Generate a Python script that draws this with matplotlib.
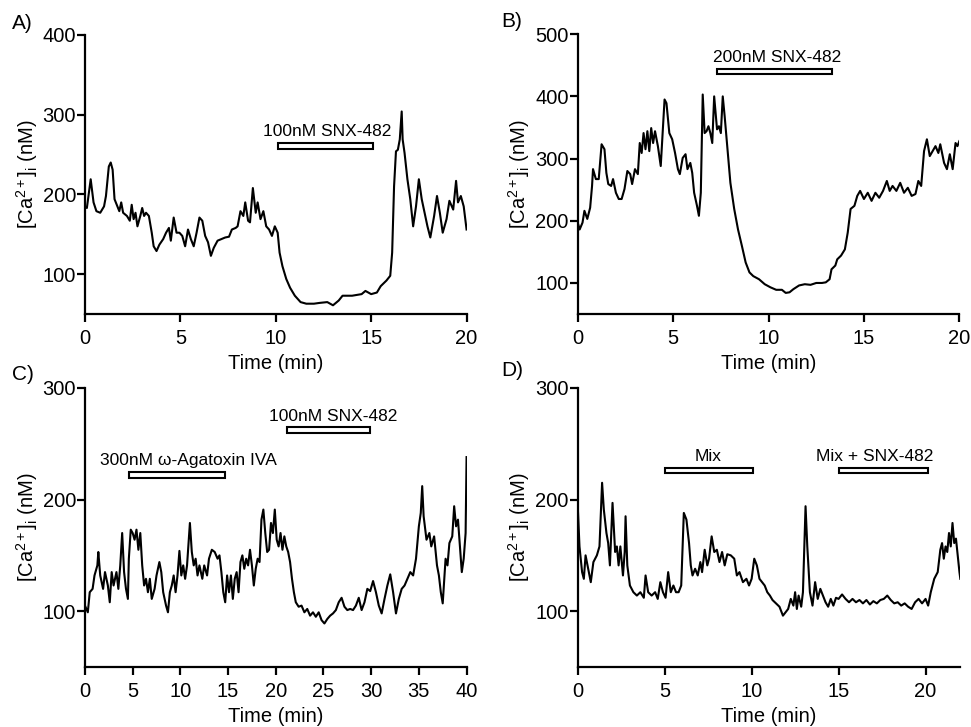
import matplotlib
matplotlib.use('Agg')
import matplotlib.pyplot as plt
from matplotlib.patches import Rectangle

plt.rcParams['font.family'] = ['Liberation Sans', 'DejaVu Sans']
plt.rcParams['mathtext.fontset'] = 'custom'
plt.rcParams['mathtext.rm'] = 'Liberation Sans'
plt.rcParams['mathtext.it'] = 'Liberation Sans'

# --- panel A: 100nM SNX-482 ---
t_a = [0, 0.1, 0.3, 0.45, 0.6, 0.8, 1.0, 1.1, 1.25, 1.35, 1.45, 1.55, 1.7, 1.8, 1.9, 2.0,
       2.2, 2.35, 2.45, 2.55, 2.65, 2.75, 2.9, 3.0, 3.1, 3.2, 3.35, 3.5, 3.6, 3.75, 3.9,
       4.1, 4.25, 4.4, 4.5, 4.65, 4.8, 4.95, 5.1, 5.25, 5.4, 5.55, 5.7, 5.85, 6.0, 6.15,
       6.3, 6.45, 6.6, 6.75, 6.95, 7.15, 7.35, 7.55, 7.7, 7.9, 8.0, 8.15, 8.3, 8.4, 8.55,
       8.65, 8.8, 8.95, 9.05, 9.2, 9.35, 9.5, 9.65, 9.8, 9.95, 10.1, 10.2, 10.35, 10.55,
       10.75, 11.0, 11.3, 11.6, 12.0, 12.3, 12.7, 13.0, 13.3, 13.5, 14.0, 14.5, 14.7, 15.0,
       15.3, 15.5, 15.8, 16.0, 16.1, 16.2, 16.3, 16.4, 16.5, 16.6, 16.65, 16.75, 16.9,
       17.05, 17.2, 17.35, 17.5, 17.65, 17.8, 17.95, 18.1, 18.3, 18.45, 18.6, 18.75, 18.95,
       19.1, 19.3, 19.45, 19.55, 19.7, 19.85, 20.0]
ca_a = [185, 183, 219, 190, 179, 177, 185, 198, 235, 240, 231, 194, 185, 179, 190, 177,
        173, 167, 187, 169, 177, 160, 173, 183, 173, 177, 173, 152, 135, 129, 137,
        144, 152, 158, 142, 171, 152, 152, 148, 135, 156, 144, 135, 152, 171, 167,
        148, 140, 123, 133, 142, 144, 146, 147, 156, 158, 160, 179, 173, 190, 167,
        165, 208, 177, 190, 169, 179, 160, 156, 148, 160, 152, 127, 110, 94,
        83, 73, 65, 63, 63, 64, 65, 61, 67, 73, 73, 75, 79, 75,
        77, 85, 92, 98, 127, 210, 254, 256, 269, 304, 269, 252, 219,
        194, 160, 185, 219, 194, 177, 160, 146, 173, 198, 177, 152, 169,
        192, 181, 217, 190, 198, 185, 156]

# --- panel B: 200nM SNX-482 ---
t_b = [0, 0.1, 0.25, 0.35, 0.5, 0.65, 0.75, 0.8, 0.95, 1.1, 1.25, 1.4, 1.5, 1.6, 1.75,
       1.85, 2.0, 2.15, 2.3, 2.45, 2.6, 2.75, 2.85, 3.0, 3.15, 3.25, 3.35, 3.45, 3.55,
       3.65, 3.75, 3.85, 3.95, 4.05, 4.2, 4.35, 4.45, 4.55, 4.65, 4.8, 4.95, 5.1, 5.25,
       5.35, 5.5, 5.65, 5.75, 5.9, 6.0, 6.1, 6.25, 6.35, 6.45, 6.55, 6.65, 6.75, 6.85,
       6.95, 7.05, 7.15, 7.3, 7.4, 7.5, 7.6, 7.7, 7.85, 8.0, 8.2, 8.4, 8.6, 8.8, 9.0,
       9.2, 9.5, 9.8, 10.1, 10.4, 10.7, 10.9, 11.1, 11.3, 11.6, 11.9, 12.2, 12.5, 12.8,
       13.0, 13.2, 13.3, 13.5, 13.6, 13.8, 14.0, 14.15, 14.3, 14.5, 14.65, 14.8, 15.0,
       15.2, 15.4, 15.6, 15.8, 16.0, 16.2, 16.35, 16.5, 16.7, 16.9, 17.1, 17.3, 17.5,
       17.7, 17.85, 18.0, 18.15, 18.3, 18.45, 18.6, 18.75, 18.9, 19.0, 19.2, 19.35,
       19.5, 19.65, 19.8, 19.9, 20.0]
ca_b = [197, 186, 197, 216, 203, 221, 256, 283, 267, 267, 323, 315, 277, 259, 256,
        267, 245, 235, 235, 251, 280, 275, 259, 283, 275, 325, 309, 341, 315,
        344, 312, 349, 325, 344, 320, 288, 341, 395, 389, 341, 331, 309, 283,
        275, 301, 307, 283, 293, 277, 245, 224, 208, 245, 403, 341, 344, 352,
        341, 325, 400, 347, 352, 341, 400, 368, 315, 261, 219, 186, 160, 133, 117,
        111, 106, 98, 93, 89, 89, 84, 85, 90, 96, 98, 97, 100, 100,
        101, 106, 122, 128, 138, 144, 154, 181, 219, 224, 240, 248, 235,
        245, 232, 245, 237, 248, 264, 248, 256, 248, 261, 245, 253, 240,
        243, 264, 256, 312, 331, 304, 312, 320, 309, 323, 293, 283,
        307, 283, 325, 320, 328]

# --- panel C: agatoxin then SNX-482 ---
t_c = [0, 0.3, 0.5, 0.8, 1.0, 1.3, 1.4, 1.6, 1.9, 2.1, 2.4, 2.6, 2.8, 3.0, 3.3, 3.5,
       3.7, 3.9, 4.1, 4.3, 4.5, 4.6, 4.8, 5.0, 5.2, 5.4, 5.6, 5.8, 6.0, 6.2, 6.4, 6.6,
       6.8, 7.0, 7.3, 7.5, 7.8, 8.0, 8.2, 8.5, 8.7, 8.9, 9.1, 9.3, 9.5, 9.7, 9.9, 10.1,
       10.3, 10.5, 10.7, 10.9, 11.0, 11.2, 11.4, 11.6, 11.8, 12.0, 12.3, 12.5, 12.8,
       13.0, 13.3, 13.6, 13.9, 14.1, 14.3, 14.5, 14.7, 14.9, 15.1, 15.3, 15.5, 15.7,
       15.9, 16.1, 16.3, 16.5, 16.7, 16.9, 17.1, 17.3, 17.5, 17.7, 17.9, 18.1, 18.3,
       18.5, 18.7, 18.9, 19.1, 19.3, 19.5, 19.7, 19.9, 20.1, 20.3, 20.5, 20.7, 20.9,
       21.1, 21.3, 21.5, 21.7, 21.9, 22.1, 22.4, 22.7, 23.0, 23.3, 23.6, 23.9, 24.2,
       24.5, 24.8, 25.1, 25.4, 25.7, 26.0, 26.3, 26.6, 26.9, 27.2, 27.5, 27.8, 28.1,
       28.4, 28.7, 29.0, 29.3, 29.6, 29.9, 30.2, 30.5, 30.8, 31.1, 31.4, 31.7, 32.0,
       32.3, 32.6, 32.9, 33.2, 33.5, 33.8, 34.1, 34.4, 34.7, 35.0, 35.2, 35.35, 35.5,
       35.8, 36.1, 36.3, 36.6, 36.9, 37.1, 37.3, 37.5, 37.8, 38.0, 38.2, 38.5, 38.7,
       38.9, 39.1, 39.3, 39.5, 39.7, 39.9, 40.0]
ca_c = [105, 99, 117, 120, 132, 141, 153, 132, 120, 135, 123, 108, 135, 123, 135, 120,
        141, 170, 135, 120, 111, 147, 173, 170, 164, 173, 155, 170, 141, 123, 129, 117,
        129, 111, 120, 132, 144, 135, 117, 105, 99, 117, 123, 132, 117, 132, 154, 132,
        141, 129, 141, 167, 179, 153, 141, 147, 132, 141, 129, 141, 132,
        147, 155, 153, 147, 150, 135, 117, 108, 132, 117, 132, 111, 129,
        135, 117, 144, 150, 138, 147, 141, 155, 141, 123, 138, 147, 144,
        182, 191, 170, 153, 155, 179, 170, 191, 164, 158, 170, 155, 167,
        158, 153, 144, 129, 117, 108, 104, 105, 99, 102, 96, 99, 95,
        99, 92, 89, 93, 96, 98, 101, 108, 112, 104, 101, 102, 101,
        105, 112, 101, 108, 120, 118, 127, 117, 105, 98, 111, 123, 133,
        117, 98, 111, 120, 123, 129, 135, 132, 147, 176, 188, 212, 185,
        164, 170, 158, 167, 141, 132, 117, 107, 147, 141, 161, 167, 194,
        176, 182, 158, 135, 147, 170, 238]

# --- panel D: Mix then Mix + SNX-482 ---
t_d = [0, 0.1, 0.25, 0.35, 0.45, 0.6, 0.75, 0.9, 1.1, 1.25, 1.4, 1.5, 1.65, 1.75, 1.85,
       2.0, 2.15, 2.25, 2.35, 2.45, 2.6, 2.7, 2.75, 2.85, 3.0, 3.2, 3.4, 3.6, 3.8, 3.9,
       4.05, 4.25, 4.45, 4.6, 4.75, 4.9, 5.05, 5.2, 5.35, 5.5, 5.65, 5.8, 5.95, 6.1,
       6.25, 6.4, 6.5, 6.6, 6.75, 6.9, 7.05, 7.15, 7.3, 7.45, 7.55, 7.7, 7.85, 8.0,
       8.15, 8.3, 8.45, 8.6, 8.8, 9.0, 9.15, 9.3, 9.5, 9.7, 9.85, 10.0, 10.15, 10.3,
       10.45, 10.6, 10.75, 10.9, 11.05, 11.2, 11.4, 11.6, 11.8, 11.95, 12.1, 12.25,
       12.4, 12.5, 12.6, 12.7, 12.85, 12.95, 13.1, 13.2, 13.35, 13.5, 13.65, 13.8,
       13.95, 14.1, 14.25, 14.4, 14.55, 14.7, 14.85, 15.0, 15.2, 15.4, 15.6, 15.8,
       16.0, 16.2, 16.4, 16.6, 16.8, 17.0, 17.2, 17.4, 17.6, 17.8, 18.0, 18.2, 18.4,
       18.6, 18.8, 19.0, 19.2, 19.4, 19.6, 19.8, 20.0, 20.15, 20.3, 20.5, 20.7, 20.85,
       20.95, 21.05, 21.15, 21.25, 21.35, 21.45, 21.55, 21.65, 21.75, 21.85, 21.95, 22.0]
ca_d = [194, 158, 135, 129, 150, 138, 126, 144, 150, 158, 215, 191, 170, 161, 141,
        197, 153, 158, 141, 158, 132, 153, 185, 141, 123, 117, 114, 117, 112, 132,
        117, 114, 117, 111, 126, 117, 112, 135, 117, 123, 117, 117, 123, 188,
        182, 161, 141, 132, 138, 132, 144, 135, 155, 141, 147, 167, 153, 155,
        144, 153, 141, 151, 150, 147, 132, 135, 126, 129, 123, 129, 147, 141,
        129, 126, 123, 117, 114, 110, 107, 104, 96, 99, 102, 111,
        105, 117, 102, 114, 104, 117, 194, 158, 117, 105, 126, 111,
        120, 114, 108, 104, 111, 105, 112, 111, 115, 111, 108, 111,
        108, 110, 107, 110, 106, 109, 107, 110, 111, 114, 110, 107, 108,
        105, 107, 104, 102, 108, 111, 107, 111, 105, 117, 129, 135, 155,
        161, 147, 158, 153, 170, 158, 179, 161, 165, 150, 135, 129]

# treatment bars: (label, start, end, bar y, label x)
bars_a = [('100nM SNX-482', 10.1, 15.1, 261, 12.7)]
bars_b = [('200nM SNX-482', 7.3, 13.3, 440, 10.45)]
bars_c = [('300nM ω-Agatoxin IVA', 4.6, 14.7, 222, 10.8),
          ('100nM SNX-482', 21.2, 29.9, 262, 26.0)]
bars_d = [('Mix', 5.0, 10.05, 226, 7.5), ('Mix + SNX-482', 15.0, 20.15, 226, 17.1)]

panels = [
    ('A)', t_a, ca_a, bars_a, (0, 20), [0, 5, 10, 15, 20], (50, 400), [100, 200, 300, 400]),
    ('B)', t_b, ca_b, bars_b, (0, 20), [0, 5, 10, 15, 20], (50, 500), [100, 200, 300, 400, 500]),
    ('C)', t_c, ca_c, bars_c, (0, 40), list(range(0, 41, 5)), (50, 300), [100, 200, 300]),
    ('D)', t_d, ca_d, bars_d, (0, 22), [0, 5, 10, 15, 20], (50, 300), [100, 200, 300]),
]

axes_pos = [
    [0.0875, 0.568, 0.393, 0.384],
    [0.595, 0.568, 0.393, 0.385],
    [0.0875, 0.0825, 0.393, 0.384],
    [0.595, 0.0825, 0.394, 0.384],
]
label_pos = [(0.012, 0.967), (0.516, 0.970), (0.012, 0.485), (0.516, 0.491)]

fig = plt.figure(figsize=(9.71, 7.27), dpi=100)

for (tag, t, ca, bars, xl, xt, yl, yt), pos, lp in zip(panels, axes_pos, label_pos):
    ax = fig.add_axes(pos)
    ax.plot(t, ca, color='black', linewidth=1.5)
    ax.set_xlim(*xl)
    ax.set_ylim(*yl)
    ax.set_xticks(xt)
    ax.set_yticks(yt)
    for side in ['top', 'right']:
        ax.spines[side].set_visible(False)
    for side in ['left', 'bottom']:
        ax.spines[side].set_linewidth(1.6)
    ax.tick_params(width=1.6, length=5.5, labelsize=14.5)
    ax.tick_params(axis='x', pad=5.5)
    ax.tick_params(axis='y', pad=1)
    ax.set_xlabel('Time (min)', fontsize=14.5, labelpad=4)
    ax.set_ylabel(r'[Ca$^{2+}$]$_{\mathrm{i}}$ (nM)', fontsize=14.5, labelpad=2)
    bh = (yl[1] - yl[0]) * 0.02
    for name, x0, x1, yb, xt_lab in bars:
        ax.add_patch(Rectangle((x0, yb - bh / 2), x1 - x0, bh, facecolor='white',
                               edgecolor='black', linewidth=1.5, clip_on=False))
        ax.text(xt_lab, yb + bh * 1.2, name, ha='center', va='bottom', fontsize=12.5)
    fig.text(lp[0], lp[1], tag, fontsize=15, ha='left', va='center')

fig.savefig('out.png', dpi=100)
